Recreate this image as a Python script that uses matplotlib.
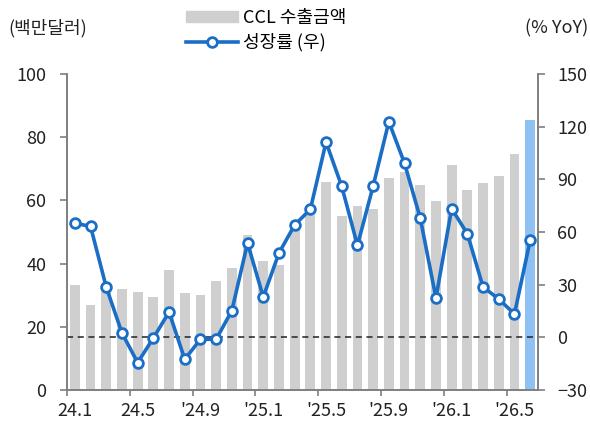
import matplotlib
matplotlib.use('Agg')
import matplotlib.pyplot as plt
from matplotlib.patches import Patch
from matplotlib.lines import Line2D

plt.rcParams['font.family'] = ['Noto Sans CJK KR', 'DejaVu Sans']

# --- 데이터 ---
months = ['24.1', '24.2', '24.3', '24.4', '24.5', '24.6', '24.7', '24.8', '24.9', '24.10',
          '24.11', '24.12', '25.1', '25.2', '25.3', '25.4', '25.5', '25.6', '25.7', '25.8',
          '25.9', '25.10', '25.11', '25.12', '26.1', '26.2', '26.3', '26.4', '26.5', '26.6']
export_usd = [33.2, 26.9, 31.1, 32.0, 31.0, 29.4, 38.0, 30.7, 30.0, 34.5,
              38.6, 49.0, 40.8, 39.6, 50.8, 55.4, 65.9, 55.1, 58.2, 57.4,
              67.2, 69.1, 64.9, 59.9, 71.2, 63.4, 65.6, 67.7, 74.8, 85.5]
growth_yoy = [65.0, 63.2, 28.6, 2.5, -14.4, -0.4, 14.4, -12.5, -1.1, -1.1,
              15.2, 53.7, 23.0, 48.0, 64.0, 72.9, 111.2, 86.0, 52.4, 86.2,
              122.8, 99.1, 67.9, 22.4, 73.3, 59.0, 28.7, 21.8, 13.3, 55.2]
tick_labels = ['24.1', '24.5', "'24.9", "'25.1", "'25.5", "'25.9", "'26.1", "'26.5"]

GRAY_BAR = '#d0cfcf'
BLUE_BAR = '#8fc1f2'
LINE_C = '#1a6ec6'
SPINE_C = '#7f7f7f'
TXT_C = '#222222'

fig = plt.figure(figsize=(5.9, 4.25), dpi=100)
ax = fig.add_axes([67/590, 1-390/425, (538-67)/590, (390-74)/425])
ax2 = ax.twinx()

x = list(range(len(months)))
colors = [GRAY_BAR] * (len(months) - 1) + [BLUE_BAR]
ax.bar(x, export_usd, width=0.63, color=colors, zorder=1)

ax2.axhline(0, color=TXT_C, ls=(0, (4, 3)), lw=1.1, zorder=2)
ax2.plot(x, growth_yoy, color=LINE_C, lw=2.6, marker='o', ms=7,
         mfc='white', mec=LINE_C, mew=2, zorder=3)

ax.set_xlim(-0.5, len(months) - 0.5)
ax.set_ylim(0, 100)
ax2.set_ylim(-30, 150)
ax.set_yticks(range(0, 101, 20))
ax2.set_yticks(range(-30, 151, 30))

# 라벨은 막대 중심, 눈금은 막대 사이 경계
ax.set_xticks(range(0, len(months), 4))
ax.set_xticklabels(tick_labels)
ax.set_xticks([i - 0.5 for i in range(0, len(months), 4)], minor=True)

for a in (ax, ax2):
    a.spines['top'].set_visible(False)
    for s in ('left', 'right', 'bottom'):
        a.spines[s].set_color(SPINE_C)
        a.spines[s].set_linewidth(1.2)
    a.tick_params(colors=SPINE_C, labelcolor=TXT_C, labelsize=13, length=5, width=1.2)
ax.tick_params(axis='y', pad=10)
ax2.tick_params(axis='y', pad=9)
ax.tick_params(axis='x', which='major', length=0, pad=9)
ax.tick_params(axis='x', which='minor', length=4, width=1.2, color=SPINE_C)
ax.set_zorder(ax2.get_zorder() - 1)
ax2.patch.set_visible(False)

fig.text(8/590, 1-28/425, '(백만달러)', fontsize=13, va='center', ha='left', color=TXT_C)
fig.text(588/590, 1-28/425, '(% YoY)', fontsize=13, va='center', ha='right', color=TXT_C)

handles = [Patch(color=GRAY_BAR),
           Line2D([], [], color=LINE_C, lw=2.6, marker='o', ms=7, mfc='white', mec=LINE_C, mew=2)]
fig.legend(handles, ['CCL 수출금액', '성장률 (우)'], loc='upper left',
           bbox_to_anchor=(186/590, 1-9/425), frameon=False, fontsize=13,
           handlelength=2.9, handleheight=0.6, handletextpad=0.25, labelspacing=0.35,
           borderpad=0, borderaxespad=0)

fig.savefig('out.png', dpi=100)
